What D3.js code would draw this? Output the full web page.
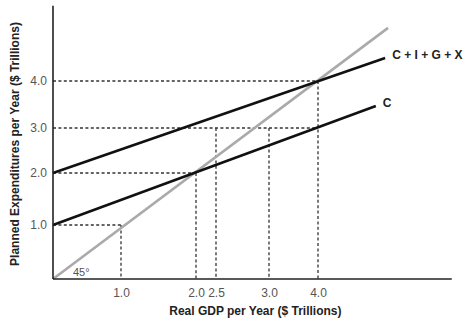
<!DOCTYPE html>
<html><head><meta charset="utf-8">
<script src="https://cdn.jsdelivr.net/npm/d3@7"></script>
<style>body{margin:0;background:#fff} svg{display:block}</style>
</head><body><svg id="c" width="473" height="327"></svg>
<script>
// ---- data ----
const xTickValues = [1.0, 2.0, 2.5, 3.0, 4.0];
const yTickValues = [1.0, 2.0, 3.0, 4.0];
const xAxisMax = 6.73;
const yAxisMax = 5.6;
const totalLine = [[0, 2.0], [5.37, 4.49]];      // C + I + G + X
const consumptionLine = [[0, 1.0], [5.18, 3.47]]; // C
const line45 = [[0, 0], [5.43, 5.13]];           // 45-degree line
const guidesH = [[1.0, 1.0], [2.0, 2.0], [3.0, 4.0], [4.0, 4.0]]; // [y, x end]
const guidesV = [[1.0, 1.0], [2.0, 2.0], [2.5, 3.0], [3.0, 3.0], [4.0, 4.0]]; // [x, y end]
const lineLabels = ["C + I + G + X", "C"];
const xTitle = "Real GDP per Year ($ Trillions)";
const yTitle = "Planned Expenditures per Year ($ Trillions)";

// ---- scales (uneven spacing as in the original figure) ----
const x = d3.scaleLinear().domain([0, 1, 2, 2.5, 3, 4]).range([53, 121, 196, 216, 269, 318]);
const y = d3.scaleLinear().domain([0, 1, 2, 3, 4]).range([279, 225, 173, 128, 81]);

const svg = d3.select("#c");
const font = "'Liberation Sans', Arial, Helvetica, sans-serif";
const line = d3.line().x(d => x(d[0])).y(d => y(d[1]));

// guides
const g = svg.append("g").attr("stroke", "#333").attr("stroke-width", 1.3)
  .attr("stroke-dasharray", "3,2.4").attr("fill", "none");
guidesH.forEach(([yv, xe]) => g.append("path").attr("d", line([[0, yv], [xe, yv]])));
guidesV.forEach(([xv, ye]) => g.append("path").attr("d", line([[xv, ye], [xv, 0]])));

// 45 line
svg.append("path").attr("d", line(line45)).attr("stroke", "#aaa").attr("stroke-width", 2.6).attr("fill", "none");
// C and total
svg.append("path").attr("d", line(consumptionLine)).attr("stroke", "#111").attr("stroke-width", 2.6).attr("fill", "none");
svg.append("path").attr("d", line(totalLine)).attr("stroke", "#111").attr("stroke-width", 2.6).attr("fill", "none");

// axes
const xAxis = d3.axisBottom(x).tickValues(xTickValues).tickSize(0).tickPadding(9).tickFormat(d3.format(".1f"));
const yAxis = d3.axisLeft(y).tickValues(yTickValues).tickSize(0).tickPadding(6).tickFormat(d3.format(".1f"));
const gx = svg.append("g").attr("transform", `translate(0,${y(0)})`).call(xAxis);
const gy = svg.append("g").attr("transform", `translate(${x(0)},0)`).call(yAxis);
[gx, gy].forEach(a => {
  a.select(".domain").remove();
  a.selectAll("text").attr("font-family", font).attr("font-size", 12).attr("fill", "#555");
});
svg.append("path").attr("d", line([[0, 0], [xAxisMax, 0]])).attr("stroke", "#222").attr("stroke-width", 1.6);
svg.append("path").attr("d", line([[0, 0], [0, yAxisMax]])).attr("stroke", "#222").attr("stroke-width", 1.6);

// line labels
const ends = [totalLine[1], consumptionLine[1]];
lineLabels.forEach((t, i) => {
  svg.append("text").attr("x", x(ends[i][0]) + 7).attr("y", y(ends[i][1]) - 3).attr("dy", "0.35em")
    .attr("font-family", font).attr("font-size", 12).attr("font-weight", "bold").attr("fill", "#222").text(t);
});

// 45 degree label
svg.append("text").attr("x", x(0) + 20).attr("y", y(0) - 3)
  .attr("font-family", font).attr("font-size", 11).attr("fill", "#555").text("45°");

// titles
svg.append("text").attr("x", (x(0) + x(xAxisMax)) / 2 + 3).attr("y", 315).attr("text-anchor", "middle")
  .attr("font-family", font).attr("font-size", 12).attr("font-weight", "bold").attr("fill", "#222").text(xTitle);
svg.append("text").attr("transform", "translate(19,144) rotate(-90)").attr("text-anchor", "middle")
  .attr("font-family", font).attr("font-size", 12).attr("font-weight", "bold").attr("fill", "#222").text(yTitle);
</script>
</body></html>
